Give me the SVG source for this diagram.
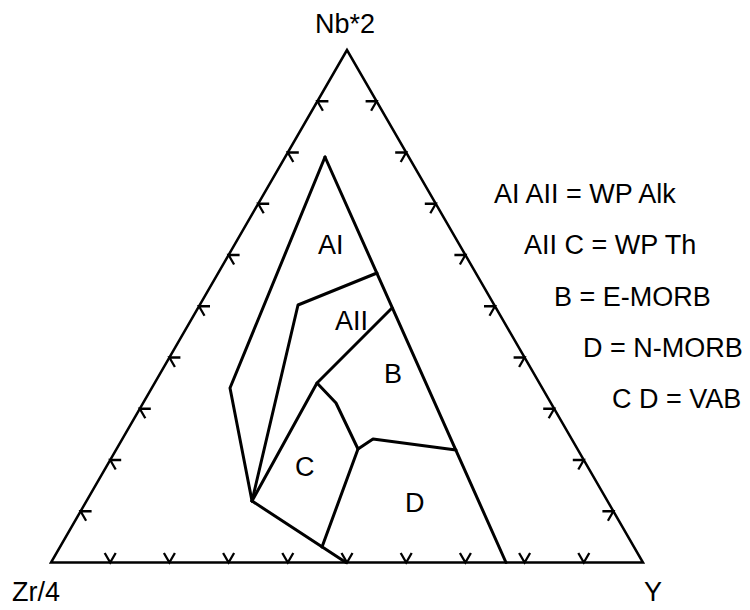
<svg xmlns="http://www.w3.org/2000/svg" xmlns:xlink="http://www.w3.org/1999/xlink" width="750" height="610" viewBox="0 0 750 610">
<style>
.frame{fill:none;stroke:#000;stroke-width:2.5;stroke-linejoin:miter}
.tick{fill:none;stroke:#000;stroke-width:2.3}
.field{fill:none;stroke:#000;stroke-width:3;stroke-linejoin:round;stroke-linecap:round}
text{font-family:"Liberation Sans",Arial,sans-serif;font-size:27px;fill:#000}
</style>
<defs>
<path id="tl" class="tick" d="M11,0 L0,0 L5.5,9.5"/>
<path id="tr" class="tick" d="M-11,0 L0,0 L-5.5,9.5"/>
<path id="tb" class="tick" d="M-5.5,-9.5 L0,0 L5.5,-9.5"/>
</defs>
<rect width="750" height="610" fill="#fff"/>
<g id="frame">
<polygon class="frame" points="347,50 51,562.5 643,562.5"/>
<g id="ticks-left">
<use xlink:href="#tl" x="317.4" y="101.25"/>
<use xlink:href="#tl" x="287.8" y="152.5"/>
<use xlink:href="#tl" x="258.2" y="203.75"/>
<use xlink:href="#tl" x="228.6" y="255"/>
<use xlink:href="#tl" x="199" y="306.25"/>
<use xlink:href="#tl" x="169.4" y="357.5"/>
<use xlink:href="#tl" x="139.8" y="408.75"/>
<use xlink:href="#tl" x="110.2" y="460"/>
<use xlink:href="#tl" x="80.6" y="511.25"/>
</g>
<g id="ticks-right">
<use xlink:href="#tr" x="376.6" y="101.25"/>
<use xlink:href="#tr" x="406.2" y="152.5"/>
<use xlink:href="#tr" x="435.8" y="203.75"/>
<use xlink:href="#tr" x="465.4" y="255"/>
<use xlink:href="#tr" x="495" y="306.25"/>
<use xlink:href="#tr" x="524.6" y="357.5"/>
<use xlink:href="#tr" x="554.2" y="408.75"/>
<use xlink:href="#tr" x="583.8" y="460"/>
<use xlink:href="#tr" x="613.4" y="511.25"/>
</g>
<g id="ticks-bottom">
<use xlink:href="#tb" x="110.2" y="562.5"/>
<use xlink:href="#tb" x="169.4" y="562.5"/>
<use xlink:href="#tb" x="228.6" y="562.5"/>
<use xlink:href="#tb" x="287.8" y="562.5"/>
<use xlink:href="#tb" x="347" y="562.5"/>
<use xlink:href="#tb" x="406.2" y="562.5"/>
<use xlink:href="#tb" x="465.4" y="562.5"/>
<use xlink:href="#tb" x="524.6" y="562.5"/>
<use xlink:href="#tb" x="583.8" y="562.5"/>
</g>
</g>
<g id="connectors">
<polyline class="field" points="325,157 230,388 252,501"/>
<polyline class="field" points="325,157 506,562.5"/>
<polyline class="field" points="377,273 298,305 252,501"/>
<polyline class="field" points="392,308 317,383 252,501"/>
<polyline class="field" points="317,383 336,403 358,449 373,439 456,450"/>
<polyline class="field" points="358,449 322,547"/>
<polyline class="field" points="252,501 346,562.5"/>
</g>
<g id="axis-labels">
<text id="apex-nb" x="315" y="33">Nb*2</text>
<text id="apex-zr" x="12" y="601">Zr/4</text>
<text id="apex-y" x="644" y="601">Y</text>
</g>
<g id="field-labels">
<text id="f-AI" x="318" y="254">AI</text>
<text id="f-AII" x="335" y="330">AII</text>
<text id="f-B" x="384" y="383">B</text>
<text id="f-C" x="295" y="476">C</text>
<text id="f-D" x="405" y="512">D</text>
</g>
<g id="legend">
<text x="494" y="203">AI AII = WP Alk</text>
<text x="524" y="254">AII C = WP Th</text>
<text x="554" y="306">B = E-MORB</text>
<text x="583" y="357">D = N-MORB</text>
<text x="612" y="408">C D = VAB</text>
</g>
</svg>
